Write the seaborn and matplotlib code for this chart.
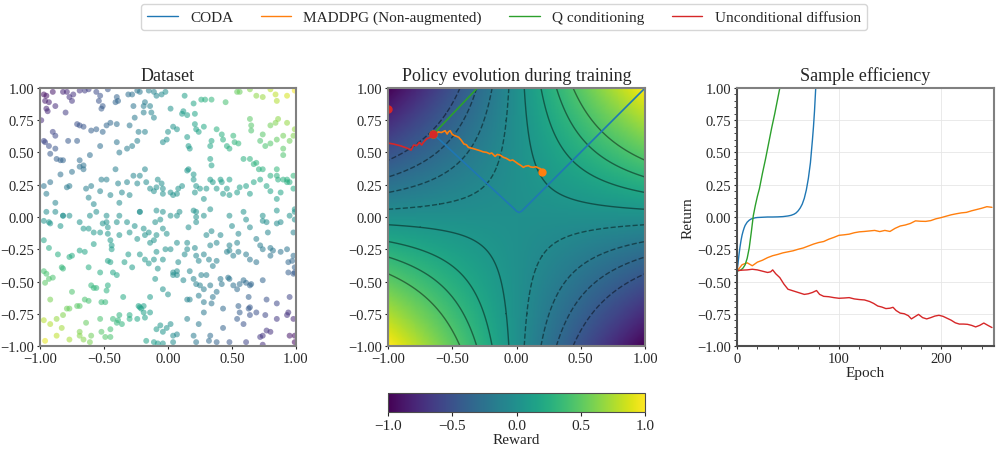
"""
Purpose:
    Dataset, policy evolution on the reward surface and sample efficiency.
"""


# %% ---- Requirements and constants ------------------------
import numpy as np
import pandas as pd
import seaborn as sns
import matplotlib.pyplot as plt
from matplotlib.lines import Line2D
from matplotlib.ticker import MultipleLocator, FuncFormatter

# dataset samples (x, y)
dataset_xy = [
    (-0.97, 0.95), (-0.95, 0.94), (-0.96, 0.90), (-0.93, 0.89), (-0.95, 0.84), (-0.94, 0.82),
    (-0.88, 0.86), (-0.90, 0.97), (-0.82, 0.97), (-0.79, 0.97), (-0.77, 0.93), (-0.75, 0.90),
    (-0.74, 0.95), (-0.69, 0.98), (-0.65, 0.98), (-0.62, 0.99), (-0.56, 0.97), (-0.53, 0.94),
    (-0.54, 0.90), (-0.52, 0.84), (-0.51, 0.86), (-0.47, 0.99), (-0.40, 0.93), (-0.41, 0.89),
    (-0.39, 0.90), (-0.31, 0.95), (-0.28, 0.95), (-0.27, 0.86), (-0.24, 0.98), (-0.22, 0.97),
    (-0.19, 0.86), (-0.18, 0.89), (-0.15, 0.98), (-0.11, 0.97), (-0.09, 0.94), (-0.05, 0.95),
    (-0.02, 0.97), (0.02, 0.84), (0.13, 0.94), (0.20, 0.88), (0.21, 0.80), (0.26, 0.91),
    (0.29, 0.91), (0.34, 0.91), (0.45, 0.89), (0.54, 0.97), (0.56, 0.97), (0.64, 0.99),
    (0.69, 0.94), (0.74, 0.93), (0.80, 0.99), (0.84, 0.95), (0.85, 0.90), (0.93, 0.94),
    (0.99, 0.98),
    (-0.99, 0.75), (-0.97, 0.59), (-0.96, 0.58), (-0.93, 0.55), (-0.90, 0.66), (-0.88, 0.63),
    (-0.92, 0.49), (-0.88, 0.53), (-0.87, 0.45), (-0.84, 0.44), (-0.82, 0.44), (-0.80, 0.81),
    (-0.71, 0.72), (-0.69, 0.71), (-0.66, 0.70), (-0.60, 0.67), (-0.56, 0.68), (-0.51, 0.66),
    (-0.48, 0.71), (-0.45, 0.73), (-0.40, 0.72), (-0.78, 0.59), (-0.71, 0.59), (-0.69, 0.44),
    (-0.66, 0.40), (-0.61, 0.48), (-0.53, 0.55), (-0.40, 0.58), (-0.38, 0.50), (-0.32, 0.53),
    (-0.28, 0.55), (-0.24, 0.59), (-0.23, 0.66), (-0.18, 0.66), (-0.30, 0.71), (-0.26, 0.77),
    (-0.19, 0.81), (-0.14, 0.86), (-0.13, 0.81), (-0.11, 0.77), (-0.04, 0.58), (-0.01, 0.60),
    (0.00, 0.66), (0.04, 0.70), (0.07, 0.68), (0.11, 0.80), (0.12, 0.82), (0.15, 0.79),
    (0.15, 0.62), (0.16, 0.55), (0.17, 0.53), (0.21, 0.72), (0.22, 0.68), (0.24, 0.66),
    (0.28, 0.70), (0.33, 0.55), (0.34, 0.59), (0.33, 0.45), (0.34, 0.40), (0.38, 0.68),
    (0.42, 0.64), (0.43, 0.60), (0.46, 0.55), (0.48, 0.53), (0.51, 0.63), (0.52, 0.58),
    (0.55, 0.57), (0.59, 0.45), (0.64, 0.76), (0.65, 0.71), (0.65, 0.67), (0.72, 0.59),
    (0.74, 0.64), (0.76, 0.55), (0.80, 0.57), (0.80, 0.71), (0.84, 0.73), (0.86, 0.76),
    (0.85, 0.60), (0.90, 0.63), (0.90, 0.53), (0.93, 0.73), (0.95, 0.59), (0.98, 0.63),
    (0.99, 0.68), (0.85, 0.32), (0.86, 0.29), (0.93, 0.29), (0.95, 0.27), (0.64, 0.45),
    (0.67, 0.41), (0.69, 0.42), (0.71, 0.37), (0.74, 0.37), (0.80, 0.32), (0.85, 0.37),
    (0.90, 0.48),
    (-0.97, 0.24), (-0.95, 0.18), (-0.92, 0.27), (-0.88, 0.11), (-0.84, 0.33), (-0.79, 0.23),
    (-0.77, 0.24), (-0.75, 0.35), (-0.69, 0.39), (-0.66, 0.37), (-0.64, 0.22), (-0.62, 0.15),
    (-0.60, 0.24), (-0.58, 0.10), (-0.53, 0.20), (-0.52, 0.29), (-0.48, 0.29), (-0.45, 0.17),
    (-0.41, 0.37), (-0.39, 0.26), (-0.38, 0.11), (-0.36, 0.19), (-0.32, 0.27), (-0.30, 0.17),
    (-0.27, 0.32), (-0.24, 0.26), (-0.22, 0.32), (-0.18, 0.37), (-0.17, 0.27), (-0.14, 0.22),
    (-0.11, 0.20), (-0.09, 0.23), (-0.08, 0.29), (-0.05, 0.26), (-0.04, 0.22), (-0.04, 0.18),
    (0.02, 0.19), (0.04, 0.17), (0.07, 0.18), (0.08, 0.22), (0.11, 0.24), (0.15, 0.36),
    (0.16, 0.37), (0.20, 0.33), (0.20, 0.29), (0.21, 0.19), (0.22, 0.24), (0.25, 0.22),
    (0.28, 0.14), (0.30, 0.22), (0.33, 0.29), (0.35, 0.27), (0.38, 0.22), (0.41, 0.29),
    (0.42, 0.27), (0.43, 0.18), (0.46, 0.22), (0.48, 0.29), (0.48, 0.17), (0.54, 0.19),
    (0.56, 0.23), (0.61, 0.24), (0.64, 0.18), (0.67, 0.27), (0.72, 0.29), (0.77, 0.24),
    (0.80, 0.20), (0.85, 0.14), (0.88, 0.19), (0.90, 0.29), (0.93, 0.27), (0.98, 0.22),
    (0.99, 0.06), (0.98, 0.32), (-0.95, 0.04), (-0.82, 0.01), (-0.56, 0.04), (-0.48, 0.01),
    (-0.38, 0.01), (-0.22, 0.04), (-0.09, 0.05), (-0.04, 0.04), (0.07, 0.01), (0.22, 0.04),
    (0.33, 0.06), (0.48, 0.01), (0.59, 0.04), (0.74, 0.01), (0.85, 0.05), (0.95, 0.01),
    (-0.97, -0.03), (-0.93, -0.04), (-0.92, -0.05), (-0.88, 0.04), (-0.82, 0.01), (-0.77, 0.01),
    (-0.84, -0.07), (-0.69, -0.04), (-0.66, -0.09), (-0.62, -0.09), (-0.61, 0.01), (-0.58, -0.12),
    (-0.53, -0.12), (-0.51, -0.05), (-0.48, -0.04), (-0.47, -0.13), (-0.45, -0.18), (-0.47, -0.08),
    (-0.40, -0.04), (-0.38, -0.14), (-0.32, -0.04), (-0.30, -0.12), (-0.26, -0.07), (-0.22, 0.04),
    (-0.19, -0.09), (-0.18, -0.14), (-0.15, -0.12), (-0.14, -0.20), (-0.11, -0.18), (-0.09, -0.14),
    (-0.10, -0.04), (-0.06, -0.02), (-0.04, -0.09), (-0.01, -0.13), (0.02, 0.01), (0.07, -0.20),
    (0.09, 0.04), (0.15, -0.20), (0.16, -0.08), (0.20, 0.05), (0.22, 0.00), (0.22, -0.04),
    (0.28, 0.01), (0.30, -0.14), (0.33, -0.22), (0.34, -0.11), (0.38, -0.20), (0.41, -0.14),
    (0.48, -0.22), (0.50, -0.07), (0.54, -0.20), (0.55, -0.13), (0.61, -0.02), (0.64, -0.08),
    (0.69, -0.17), (0.72, -0.22), (0.74, -0.03), (0.77, -0.04), (0.78, -0.12), (0.80, -0.24),
    (0.85, -0.05), (0.88, -0.04), (0.93, -0.25), (0.98, -0.12), (0.99, -0.02), (0.99, 0.04),
    (-0.97, -0.18), (-0.93, -0.24), (-0.86, -0.29), (-0.83, -0.39), (-0.82, -0.40), (-0.77, -0.31),
    (-0.75, -0.30), (-0.69, -0.26), (-0.65, -0.27), (-0.62, -0.39), (-0.58, -0.21), (-0.53, -0.43),
    (-0.47, -0.34), (-0.45, -0.35), (-0.43, -0.43), (-0.40, -0.45), (-0.44, -0.25), (-0.44, -0.22),
    (-0.34, -0.35), (-0.31, -0.29), (-0.28, -0.39), (-0.24, -0.17), (-0.22, -0.29), (-0.18, -0.33),
    (-0.15, -0.36), (-0.11, -0.33), (-0.09, -0.27), (-0.08, -0.40), (-0.04, -0.33), (-0.02, -0.25),
    (0.02, -0.25), (0.04, -0.43), (0.07, -0.42), (0.08, -0.35), (0.13, -0.29), (0.15, -0.25),
    (0.17, -0.42), (0.20, -0.48), (0.21, -0.24), (0.22, -0.30), (0.24, -0.34), (0.26, -0.45),
    (0.28, -0.29), (0.32, -0.33), (0.35, -0.38), (0.38, -0.34), (0.46, -0.27), (0.48, -0.26),
    (0.51, -0.30), (0.55, -0.27), (0.61, -0.29), (0.64, -0.33), (0.69, -0.35), (0.74, -0.25),
    (0.80, -0.30), (0.82, -0.26), (0.88, -0.27), (0.94, -0.35), (0.97, -0.34), (0.98, -0.30),
    (0.99, -0.39), (0.99, -0.43),
    (-0.97, -0.42), (-0.95, -0.44), (-0.93, -0.48), (-0.90, -0.47), (-0.96, -0.51), (-0.92, -0.64),
    (-0.75, -0.58), (-0.71, -0.69), (-0.65, -0.64), (-0.62, -0.65), (-0.60, -0.53), (-0.58, -0.55),
    (-0.56, -0.55), (-0.52, -0.66), (-0.49, -0.66), (-0.48, -0.57), (-0.47, -0.53), (-0.43, -0.79),
    (-0.39, -0.80), (-0.35, -0.62), (-0.30, -0.76), (-0.24, -0.79), (-0.23, -0.69), (-0.21, -0.71),
    (-0.19, -0.69), (-0.14, -0.62), (-0.10, -0.48), (-0.04, -0.56), (0.00, -0.60), (0.04, -0.45),
    (0.07, -0.45), (0.12, -0.49), (0.15, -0.64), (0.17, -0.64), (0.22, -0.52), (0.24, -0.61),
    (0.25, -0.53), (0.28, -0.56), (0.28, -0.66), (0.30, -0.45), (0.33, -0.53), (0.34, -0.67),
    (0.35, -0.62), (0.38, -0.58), (0.41, -0.48), (0.42, -0.52), (0.43, -0.71), (0.47, -0.47),
    (0.48, -0.48), (0.51, -0.53), (0.54, -0.56), (0.55, -0.69), (0.56, -0.52), (0.59, -0.49),
    (0.61, -0.51), (0.63, -0.62), (0.64, -0.53), (0.65, -0.52), (0.74, -0.49), (0.77, -0.64),
    (0.85, -0.67), (0.94, -0.43), (0.98, -0.44), (0.95, -0.62),
    (-0.97, -0.80), (-0.92, -0.83), (-0.87, -0.79), (-0.82, -0.76), (-0.83, -0.86), (-0.79, -0.71),
    (-0.77, -0.71), (-0.69, -0.69), (-0.69, -0.89), (-0.69, -0.92), (-0.66, -0.95), (-0.64, -0.82),
    (-0.60, -0.92), (-0.53, -0.79), (-0.52, -0.89), (-0.49, -0.93), (-0.45, -0.87), (-0.40, -0.82),
    (-0.38, -0.76), (-0.36, -0.83), (-0.30, -0.79), (-0.22, -0.70), (-0.19, -0.74), (-0.18, -0.78),
    (-0.14, -0.74), (-0.09, -0.87), (-0.06, -0.84), (-0.04, -0.89), (-0.01, -0.86), (0.02, -0.83),
    (0.04, -0.92), (0.07, -0.91), (0.15, -0.79), (0.20, -0.92), (0.24, -0.83), (0.28, -0.74),
    (0.32, -0.96), (0.33, -0.92), (0.43, -0.86), (0.48, -0.97), (0.54, -0.79), (0.56, -0.74),
    (0.59, -0.83), (0.63, -0.71), (0.64, -0.70), (0.64, -0.76), (0.69, -0.74), (0.72, -0.93),
    (0.74, -0.92), (0.76, -0.76), (0.77, -0.88), (0.80, -0.89), (0.85, -0.79), (0.93, -0.76),
    (0.94, -0.74), (0.95, -0.92), (0.98, -0.79), (0.99, -0.92), (0.99, -0.97), (-0.96, -0.96),
    (-0.87, -0.92), (-0.77, -0.95), (-0.61, -0.97), (-0.45, -0.93), (-0.17, -0.96), (-0.11, -0.97),
    (-0.08, -0.98), (-0.04, -0.98), (0.04, -0.97), (0.22, -0.97), (0.38, -0.97), (0.61, -0.97),
    (0.74, -0.99),
]

# reward contour levels (negative ones are dashed)
contour_levels = [-0.44, -0.31, -0.19, -0.06, 0.06, 0.19, 0.31, 0.44]

# policy paths in the middle panel
coda_path_x = [-0.647, -0.02, 0.0, 0.02, 0.04, 0.06, 1.0, 1.1]
coda_path_y = [0.643, 0.065, 0.045, 0.035, 0.045, 0.065, 1.0, 1.1]
maddpg_path_x = [-0.647, -0.635, -0.62, -0.61, -0.585, -0.556, -0.54, -0.53, -0.517, -0.5, -0.479,
                 -0.45, -0.43, -0.41, -0.39, -0.375, -0.336, -0.31, -0.284, -0.26, -0.232, -0.21,
                 -0.193, -0.167, -0.15, -0.128, -0.103, -0.08, -0.05, -0.03, -0.012, 0.014, 0.03,
                 0.053, 0.07, 0.092, 0.11, 0.131, 0.15, 0.17, 0.185, 0.196, 0.2]
maddpg_path_y = [0.643, 0.657, 0.645, 0.66, 0.655, 0.669, 0.643, 0.66, 0.669, 0.64, 0.63,
                 0.618, 0.595, 0.566, 0.56, 0.54, 0.53, 0.522, 0.514, 0.505, 0.501, 0.49,
                 0.496, 0.47, 0.485, 0.48, 0.463, 0.455, 0.437, 0.442, 0.43, 0.411, 0.402,
                 0.385, 0.394, 0.398, 0.388, 0.385, 0.39, 0.38, 0.375, 0.359, 0.346]
qcond_path_x = [-0.647, -0.32, -0.12]
qcond_path_y = [0.643, 0.984, 1.19]
uncond_path_x = [-0.647, -0.673, -0.70, -0.725, -0.738, -0.756, -0.777, -0.80, -0.821, -0.855,
                 -0.907, -0.959, -0.99, -1.08, -1.08, -1.0]
uncond_path_y = [0.643, 0.617, 0.605, 0.579, 0.558, 0.579, 0.553, 0.558, 0.519, 0.535,
                 0.553, 0.566, 0.571, 0.6, 0.84, 0.84]

# sample efficiency curves
coda_epoch = [0, 1, 2, 3, 4, 5, 6, 7, 8, 10, 12, 14, 16, 18, 20, 25, 30, 35, 40, 45, 50, 53, 56,
              58, 60, 62, 64, 66, 68, 70, 72, 74, 75, 76, 77, 78]
coda_return = [-0.42, -0.36, -0.29, -0.23, -0.18, -0.14, -0.11, -0.085, -0.065, -0.04, -0.025,
               -0.015, -0.01, -0.006, -0.004, -0.002, 0.0, 0.0, 0.001, 0.003, 0.008, 0.013, 0.022,
               0.032, 0.048, 0.07, 0.1, 0.145, 0.21, 0.3, 0.42, 0.6, 0.7, 0.82, 0.97, 1.12]
maddpg_epoch = list(range(0, 255, 5))
maddpg_return = [-0.42, -0.37, -0.355, -0.378, -0.35, -0.335, -0.315, -0.30, -0.29, -0.278,
                 -0.27, -0.262, -0.25, -0.24, -0.225, -0.21, -0.198, -0.19, -0.172, -0.158,
                 -0.142, -0.138, -0.133, -0.122, -0.115, -0.112, -0.108, -0.104, -0.113, -0.104,
                 -0.112, -0.088, -0.07, -0.062, -0.05, -0.03, -0.033, -0.034, -0.028, -0.014,
                 -0.005, 0.006, 0.017, 0.025, 0.032, 0.036, 0.048, 0.058, 0.068, 0.08, 0.075]
qcond_epoch = [0, 2, 4, 6, 8, 10, 12, 14, 16, 18, 20, 22, 25, 28, 31, 34, 37, 40, 42, 44]
qcond_return = [-0.42, -0.415, -0.41, -0.395, -0.37, -0.32, -0.24, -0.12, 0.01, 0.09, 0.16, 0.22,
                0.34, 0.45, 0.57, 0.69, 0.80, 0.92, 1.0, 1.08]
uncond_epoch = [0, 5, 10, 15, 20, 25, 30, 33, 35, 38, 42, 46, 50, 54, 58, 62, 66, 70, 74, 78, 81,
                85, 90, 95, 100, 105, 110, 115, 120, 125, 130, 134, 138, 142, 146, 150, 153, 156,
                160, 164, 168, 171, 175, 178, 182, 186, 190, 194, 198, 202, 206, 210, 214, 218,
                222, 226, 230, 234, 238, 242, 246, 250]
uncond_return = [-0.416, -0.412, -0.41, -0.405, -0.41, -0.42, -0.43, -0.425, -0.41, -0.44,
                 -0.47, -0.52, -0.56, -0.57, -0.58, -0.59, -0.60, -0.595, -0.585, -0.57, -0.60,
                 -0.615, -0.618, -0.625, -0.63, -0.628, -0.625, -0.635, -0.64, -0.643, -0.655,
                 -0.67, -0.69, -0.698, -0.71, -0.707, -0.70, -0.725, -0.745, -0.75, -0.765, -0.79,
                 -0.77, -0.755, -0.78, -0.79, -0.78, -0.768, -0.762, -0.77, -0.785, -0.80, -0.82,
                 -0.83, -0.83, -0.832, -0.84, -0.852, -0.84, -0.822, -0.84, -0.857]

methods = ['CODA', 'MADDPG (Non-augmented)', 'Q conditioning', 'Unconditional diffusion']
colors = ['tab:blue', 'tab:orange', 'tab:green', 'tab:red']


# %% ---- Function and class ------------------------
def style_spines(ax, color='0.5', lw=1.5):
    for s in ax.spines.values():
        s.set_color(color)
        s.set_linewidth(lw)


two_dec = FuncFormatter(lambda v, p: f'{v:.2f}'.replace('-', '\u2212'))


# %% ---- Play ground ------------------------
sns.set_style('ticks')
plt.rcParams['font.family'] = ['Liberation Serif', 'DejaVu Serif']
plt.rcParams['axes.unicode_minus'] = True

fig = plt.figure(figsize=(9.97, 4.52), dpi=100)
ax1 = fig.add_axes([0.0401, 0.2323, 0.2568, 0.5708])
ax2 = fig.add_axes([0.3892, 0.2323, 0.2578, 0.5708])
ax3 = fig.add_axes([0.7392, 0.2323, 0.2578, 0.5708])
cax = fig.add_axes([0.3892, 0.0863, 0.2578, 0.042])

# Dataset
pts = np.array(dataset_xy)
df_data = pd.DataFrame({'x': pts[:, 0], 'y': pts[:, 1]})
df_data['reward'] = df_data['x'] * df_data['y']
sns.scatterplot(data=df_data, x='x', y='y', hue='reward', palette='viridis',
                hue_norm=(-1, 1), s=18, alpha=0.55, linewidth=0, legend=False, ax=ax1)
ax1.set_xlim(-1, 1)
ax1.set_ylim(-1, 1)
ax1.set_xlabel('')
ax1.set_ylabel('')
ax1.set_title('Dataset', fontsize=13)

# Policy evolution
g = np.linspace(-1, 1, 201)
X, Y = np.meshgrid(g, g)
Z = X * Y
im = ax2.imshow(Z, extent=[-1, 1, -1, 1], origin='lower', cmap='viridis',
                vmin=-1, vmax=1, aspect='auto')
ax2.contour(X, Y, Z, levels=contour_levels, colors='k', linewidths=1.0, alpha=0.45)
paths = [(coda_path_x, coda_path_y), (maddpg_path_x, maddpg_path_y),
         (qcond_path_x, qcond_path_y), (uncond_path_x, uncond_path_y)]
for (px, py), c in zip(paths, colors):
    ax2.plot(px, py, color=c, lw=1.2)
    ax2.plot([px[0], px[-1]], [py[0], py[-1]], 'o', color=c, ms=5)
ax2.set_xlim(-1, 1)
ax2.set_ylim(-1, 1)
ax2.set_title('Policy evolution during training', fontsize=13)

cb = fig.colorbar(im, cax=cax, orientation='horizontal')
cb.set_ticks([-1, -0.5, 0, 0.5, 1])
cb.set_label('Reward', fontsize=11, labelpad=1)
cb.outline.set_edgecolor('0.3')
cax.tick_params(labelsize=11, length=3, pad=2)

# Sample efficiency
curves = [(coda_epoch, coda_return), (maddpg_epoch, maddpg_return),
          (qcond_epoch, qcond_return), (uncond_epoch, uncond_return)]
df_curve = pd.concat([pd.DataFrame({'epoch': e, 'ret': r, 'method': m})
                      for (e, r), m in zip(curves, methods)], ignore_index=True)
sns.lineplot(data=df_curve, x='epoch', y='ret', hue='method', hue_order=methods,
             palette=colors, estimator=None, lw=1.0, legend=False, ax=ax3)
ax3.set_xlim(0, 252)
ax3.set_ylim(-1, 1)
ax3.set_yticks([-1, -0.75, -0.5, -0.25, 0, 0.25, 0.5, 0.75, 1])
ax3.yaxis.set_major_formatter(two_dec)
ax3.set_xticks([0, 100, 200])
ax3.xaxis.set_minor_locator(MultipleLocator(20))
ax3.yaxis.set_minor_locator(MultipleLocator(0.05))
ax3.grid(True, which='major', color='0.9', lw=0.6)
ax3.set_xlabel('Epoch', fontsize=11, labelpad=1)
ax3.set_ylabel('Return', fontsize=11, labelpad=2)
ax3.set_title('Sample efficiency', fontsize=13)

for ax in (ax1, ax2):
    ax.set_xticks([-1, -0.5, 0, 0.5, 1])
    ax.set_yticks([-1, -0.75, -0.5, -0.25, 0, 0.25, 0.5, 0.75, 1])
    ax.xaxis.set_major_formatter(two_dec)
    ax.yaxis.set_major_formatter(two_dec)
    style_spines(ax)
style_spines(ax3)
ax3.spines['left'].set_color('0.3')
ax3.spines['bottom'].set_color('0.3')
for ax in (ax1, ax2, ax3):
    ax.tick_params(labelsize=10.5, length=2, width=0.8, pad=2)
ax3.tick_params(which='minor', length=2, width=0.6)

handles = [Line2D([], [], color=c, lw=1.0) for c in colors]
fig.legend(handles, methods, loc='upper center', bbox_to_anchor=(0.5055, 1.005), ncol=4,
           fontsize=11, frameon=True, edgecolor='0.8', handlelength=2.0, columnspacing=1.8)

fig.savefig('out.png', dpi=100)
